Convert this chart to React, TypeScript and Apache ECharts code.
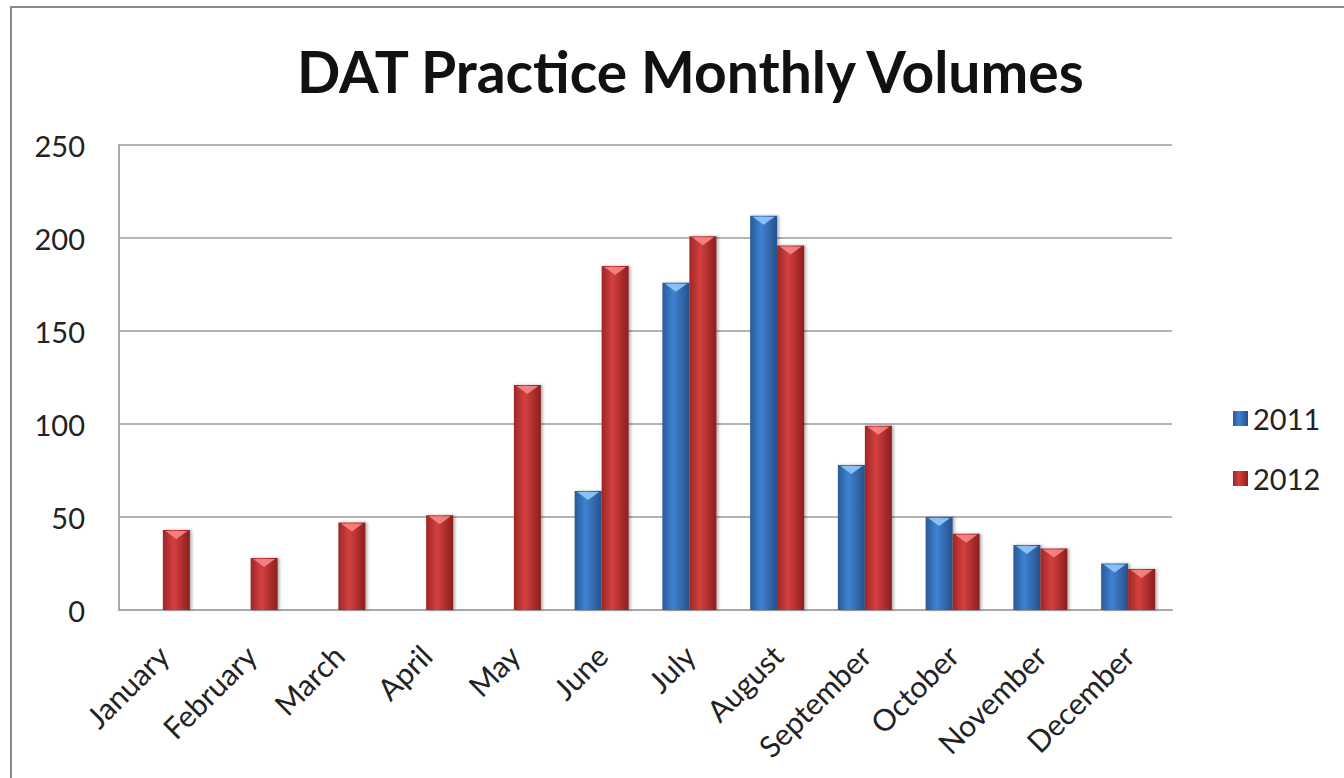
import React, { useEffect, useRef } from "react";
import * as echarts from "echarts";

const titleText = "DAT Practice Monthly Volumes";
const months = [
  "January", "February", "March", "April", "May", "June",
  "July", "August", "September", "October", "November", "December",
];
const seriesNames = ["2011", "2012"];
const values2011 = [null, null, null, null, null, 64, 176, 212, 78, 50, 35, 25];
const values2012 = [43, 28, 47, 51, 121, 185, 201, 196, 99, 41, 33, 22];
const yTicks = { min: 0, max: 250, interval: 50 };

const FONT = "Lato, 'Open Sans', sans-serif";

function grad(edgeL: string, mid: string, edgeR: string) {
  return new echarts.graphic.LinearGradient(0, 0, 1, 0, [
    { offset: 0, color: edgeL },
    { offset: 0.4, color: mid },
    { offset: 1, color: edgeR },
  ]);
}

export default function App() {
  const ref = useRef<HTMLDivElement>(null);
  useEffect(() => {
    if (!ref.current) return;
    const chart = echarts.init(ref.current, undefined, { renderer: "svg" });
    const blue = grad("#2a5a97", "#3f82d2", "#27508a");
    const red = grad("#9e2626", "#d4403f", "#8c1e1e");
    const capPath = "path://M0,0 L10,0 L5,4 Z";
    chart.setOption({
      animation: false,
      backgroundColor: "#ffffff",
      graphic: [
        {
          type: "rect",
          shape: { x: 11, y: 7, width: 1500, height: 1000 },
          style: { fill: "none", stroke: "#8a8a8a", lineWidth: 2 },
          silent: true,
          z: -1,
        },
      ],
      title: {
        text: titleText,
        left: 292,
        top: 37,
        textStyle: { fontFamily: FONT, fontWeight: "bold", fontSize: 57, color: "#111" },
      },
      legend: {
        data: seriesNames,
        orient: "vertical",
        left: 1228,
        top: 399,
        itemWidth: 15,
        itemHeight: 15,
        itemGap: 31,
        icon: "rect",
        textStyle: { fontFamily: FONT, fontSize: 29, color: "#222" },
      },
      grid: { left: 119, right: 172, top: 145, bottom: 168, containLabel: false },
      xAxis: {
        type: "category",
        data: months,
        axisLine: { show: true, lineStyle: { color: "#a8a8a8", width: 2 } },
        axisTick: { show: false },
        axisLabel: {
          rotate: 45,
          margin: 40,
          interval: 0,
          fontFamily: FONT,
          fontSize: 30,
          color: "#222",
        },
      },
      yAxis: {
        type: "value",
        min: yTicks.min,
        max: yTicks.max,
        interval: yTicks.interval,
        axisLine: { show: true, lineStyle: { color: "#a8a8a8", width: 2 } },
        axisTick: { show: false },
        splitLine: { lineStyle: { color: "#b4b4b4", width: 2 } },
        axisLabel: { margin: 34, fontFamily: FONT, fontSize: 29, color: "#222" },
      },
      series: [
        {
          name: seriesNames[0],
          type: "bar",
          data: values2011,
          barWidth: 27,
          barGap: "0%",
          itemStyle: {
            color: blue,
            shadowBlur: 3,
            shadowColor: "rgba(0,0,0,0.3)",
            shadowOffsetX: 2,
          },
        },
        {
          name: seriesNames[1],
          type: "bar",
          data: values2012,
          barWidth: 27,
          barGap: "0%",
          itemStyle: {
            color: red,
            shadowBlur: 3,
            shadowColor: "rgba(0,0,0,0.3)",
            shadowOffsetX: 2,
          },
        },
        {
          name: "cap2011",
          type: "pictorialBar",
          data: values2011,
          barWidth: 27,
          barGap: "0%",
          symbol: capPath,
          symbolSize: [22, 8],
          symbolPosition: "end",
          symbolOffset: [0, 1],
          itemStyle: { color: "rgba(150,205,255,0.85)" },
          z: 5,
          silent: true,
        },
        {
          name: "cap2012",
          type: "pictorialBar",
          data: values2012,
          barWidth: 27,
          barGap: "0%",
          symbol: capPath,
          symbolSize: [22, 8],
          symbolPosition: "end",
          symbolOffset: [0, 1],
          itemStyle: { color: "rgba(250,140,140,0.85)" },
          z: 5,
          silent: true,
        },
      ],
    });
    return () => chart.dispose();
  }, []);
  return (
    <div
      ref={ref}
      style={{ position: "fixed", left: 0, top: 0, width: 1344, height: 778 }}
    />
  );
}
